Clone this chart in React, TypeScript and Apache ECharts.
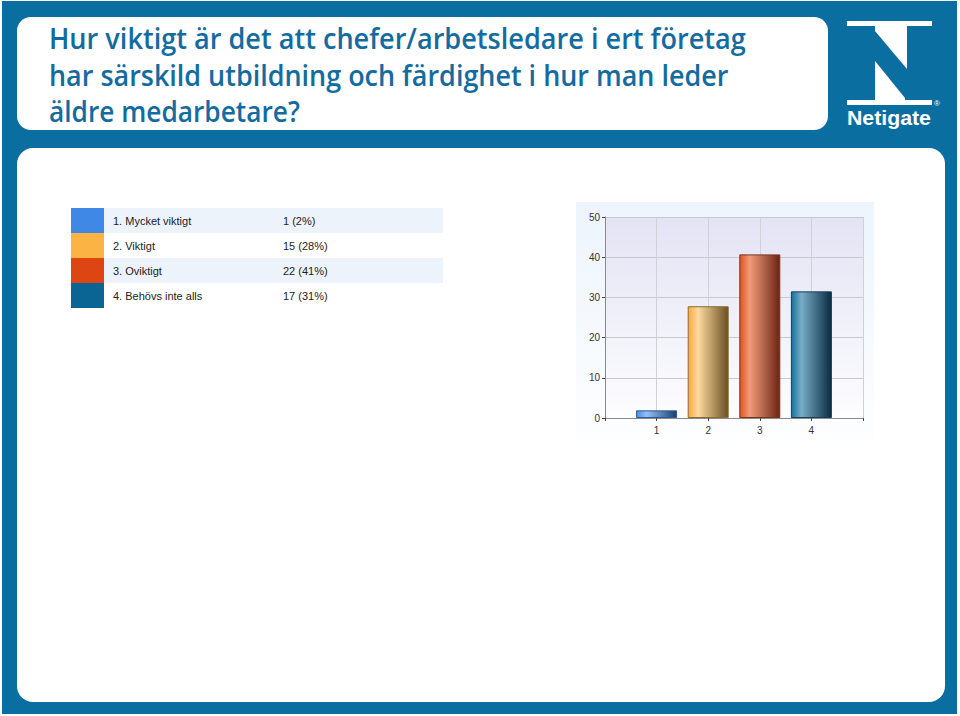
import React, { useEffect, useRef } from 'react';
import * as echarts from 'echarts';

const titleLines = [
  'Hur viktigt är det att chefer/arbetsledare i ert företag',
  'har särskild utbildning och färdighet i hur man leder',
  'äldre medarbetare?',
];
const answerLabels = ['1. Mycket viktigt', '2. Viktigt', '3. Oviktigt', '4. Behövs inte alls'];
const answerCounts = ['1 (2%)', '15 (28%)', '22 (41%)', '17 (31%)'];
const percentValues = [1.9, 27.8, 40.7, 31.5];
const xTickLabels = ['1', '2', '3', '4'];
const legendColors = ['#3f88e6', '#fbb444', '#dd4513', '#0b6594'];
const barStops = [
  ['#4a8de0', '#93c1f5', '#1c3c6c'],
  ['#f7aa3c', '#fdd9a0', '#6a4f22'],
  ['#e0521e', '#f19c7a', '#6a2412'],
  ['#14719c', '#78adc8', '#0b2a40'],
];
const barBorders = ['#2c5a94', '#8a6a35', '#7a3418', '#16405a'];

const BLUE = '#0b6ea1';
const TITLE_BLUE = '#146ba0';

function measure(text: string, font: string): number {
  const ctx = document.createElement('canvas').getContext('2d');
  if (!ctx) return 1;
  ctx.font = font;
  return ctx.measureText(text).width;
}

export default function App() {
  const ref = useRef<HTMLDivElement>(null);
  useEffect(() => {
    if (!ref.current) return;
    const chart = echarts.init(ref.current, undefined, { renderer: 'svg' });

    const titleFont = '600 28px "Open Sans"';
    const titleTargets = [697, 680, 251];
    const titleBaselines = [48, 85, 121];
    const titleEls = titleLines.map((t, i) => ({
      type: 'text',
      x: 49,
      y: titleBaselines[i] - 10,
      scaleX: titleTargets[i] / measure(t, titleFont),
      z: -5,
      style: {
        text: t,
        fill: TITLE_BLUE,
        fontFamily: 'Open Sans',
        fontSize: 28,
        fontWeight: 600,
        align: 'left',
        verticalAlign: 'middle',
      },
    }));

    const logoFont = 'bold 21px "Liberation Sans"';
    const logoScale = 84 / measure('Netigate', logoFont);

    const legendEls: any[] = [];
    answerLabels.forEach((lab, i) => {
      const y = 208 + i * 25;
      legendEls.push({
        type: 'rect', z: -4,
        shape: { x: 71, y, width: 33, height: 25 },
        style: { fill: legendColors[i] },
      });
      if (i % 2 === 0) {
        legendEls.push({
          type: 'rect', z: -4,
          shape: { x: 104, y, width: 339, height: 25 },
          style: { fill: '#edf3fb' },
        });
      }
      legendEls.push({
        type: 'text', z: -3, x: 113, y: y + 12.5,
        style: { text: lab, fill: '#222', fontFamily: 'Liberation Sans', fontSize: 11, align: 'left', verticalAlign: 'middle' },
      });
      legendEls.push({
        type: 'text', z: -3, x: 283, y: y + 12.5,
        style: { text: answerCounts[i], fill: '#222', fontFamily: 'Liberation Sans', fontSize: 11, align: 'left', verticalAlign: 'middle' },
      });
    });

    const graphic: any[] = [
      { type: 'rect', z: -10, shape: { x: 2, y: 1, width: 955, height: 713 }, style: { fill: BLUE } },
      { type: 'rect', z: -9, shape: { x: 17, y: 17, width: 811, height: 113, r: 14 }, style: { fill: '#ffffff' } },
      { type: 'rect', z: -9, shape: { x: 17, y: 148, width: 928, height: 554, r: 16 }, style: { fill: '#ffffff' } },
      ...titleEls,
      // Netigate logo
      { type: 'rect', z: -5, shape: { x: 847, y: 21, width: 85, height: 5 }, style: { fill: '#fff' } },
      { type: 'polygon', z: -5, shape: { points: [[875, 26], [907, 26], [907, 69], [875, 31]] }, style: { fill: '#fff' } },
      { type: 'polygon', z: -5, shape: { points: [[875, 61], [905, 98], [905, 100], [875, 100]] }, style: { fill: '#fff' } },
      { type: 'rect', z: -5, shape: { x: 847, y: 100, width: 85, height: 5 }, style: { fill: '#fff' } },
      {
        type: 'text', z: -5, x: 847, y: 128, scaleX: logoScale,
        style: { text: 'Netigate', fill: '#fff', fontFamily: 'Liberation Sans', fontWeight: 'bold', fontSize: 21, align: 'left', verticalAlign: 'bottom' },
      },
      {
        type: 'text', z: -5, x: 937, y: 103,
        style: { text: '®', fill: '#fff', fontFamily: 'Liberation Sans', fontSize: 8, align: 'center', verticalAlign: 'middle' },
      },
      ...legendEls,
      // chart panel background
      {
        type: 'rect', z: -6,
        shape: { x: 576, y: 202, width: 298, height: 238 },
        style: {
          fill: new echarts.graphic.LinearGradient(0, 0, 0, 1, [
            { offset: 0, color: '#edf4fc' },
            { offset: 1, color: '#fdfeff' },
          ]),
        },
      },
    ];

    chart.setOption({
      animation: false,
      backgroundColor: '#ffffff',
      graphic,
      grid: {
        left: 605, top: 217, width: 258, height: 201,
        show: true,
        borderWidth: 0,
        backgroundColor: new echarts.graphic.LinearGradient(0, 0, 0, 1, [
          { offset: 0, color: '#e3e3f4' },
          { offset: 1, color: '#fdfdff' },
        ]),
      },
      xAxis: {
        type: 'value', min: 0, max: 5, interval: 1,
        axisLine: { show: true, lineStyle: { color: '#8a8a8a', width: 1 } },
        axisTick: { show: true, length: 3, lineStyle: { color: '#444' } },
        splitLine: { show: true, lineStyle: { color: '#d0d0d8', width: 1 } },
        axisLabel: {
          color: '#333', fontFamily: 'Liberation Sans', fontSize: 10, margin: 7,
          formatter: (v: number) => (v >= 1 && v <= 4 ? xTickLabels[v - 1] : ''),
        },
      },
      yAxis: {
        type: 'value', min: 0, max: 50, interval: 10,
        axisLine: { show: true, lineStyle: { color: '#8a8a8a', width: 1 } },
        axisTick: { show: true, length: 3, lineStyle: { color: '#444' } },
        splitLine: { show: true, lineStyle: { color: '#c8c8d2', width: 1 } },
        axisLabel: { color: '#333', fontFamily: 'Liberation Sans', fontSize: 10, margin: 5 },
      },
      series: [
        {
          type: 'bar',
          barWidth: 41,
          data: percentValues.map((v, i) => ({
            value: [i + 1, v],
            itemStyle: {
              color: new echarts.graphic.LinearGradient(0, 0, 1, 0, [
                { offset: 0, color: barStops[i][0] },
                { offset: 0.25, color: barStops[i][1] },
                { offset: 1, color: barStops[i][2] },
              ]),
              borderColor: barBorders[i],
              borderWidth: 1,
            },
          })),
        },
      ],
    });
    return () => chart.dispose();
  }, []);
  return <div ref={ref} style={{ position: 'absolute', left: 0, top: 0, width: 960, height: 716 }} />;
}
